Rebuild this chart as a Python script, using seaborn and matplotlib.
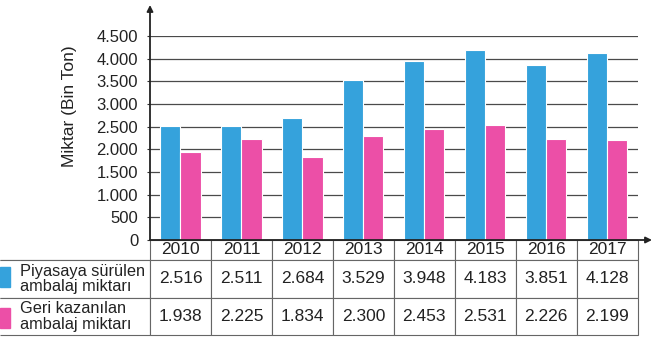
import matplotlib
matplotlib.use("Agg")
import matplotlib.pyplot as plt
from matplotlib.patches import Rectangle
from matplotlib.ticker import FuncFormatter, MultipleLocator
import seaborn as sns
import pandas as pd

# ---- data ----
years = ["2010", "2011", "2012", "2013", "2014", "2015", "2016", "2017"]
piyasaya = [2516, 2511, 2684, 3529, 3948, 4183, 3851, 4128]
geri = [1938, 2225, 1834, 2300, 2453, 2531, 2226, 2199]
series_labels = ["Piyasaya sürülen\nambalaj miktarı", "Geri kazanılan\nambalaj miktarı"]
y_label = "Miktar (Bin Ton)"
colors = ["#35A2DC", "#EC4FA7"]

df = pd.DataFrame({
    "Yıl": years * 2,
    "Miktar": piyasaya + geri,
    "Seri": [series_labels[0]] * len(years) + [series_labels[1]] * len(years),
})

sns.set_style("white")
plt.rcParams["font.family"] = ["Liberation Sans", "DejaVu Sans"]

W, H = 656, 343
fig = plt.figure(figsize=(W / 100, H / 100), dpi=100)
x0, x1 = 150, 637.7
y0, y1 = 240, 36
ax = fig.add_axes([x0 / W, (H - y0) / H, (x1 - x0) / W, (y0 - y1) / H])

sns.barplot(data=df, x="Yıl", y="Miktar", hue="Seri", order=years,
            hue_order=series_labels, palette=colors, saturation=1,
            width=0.66, dodge=True, edgecolor="white", linewidth=0.8,
            legend=False, ax=ax, zorder=3)

ax.set_xlim(-0.5, len(years) - 0.5)
ax.set_ylim(0, 4500)
ax.yaxis.set_major_locator(MultipleLocator(500))
ax.yaxis.set_major_formatter(FuncFormatter(lambda v, p: f"{int(v):,}".replace(",", ".")))
ax.yaxis.grid(True, color="#4a4a4a", lw=0.9, zorder=1)
ax.set_axisbelow(True)
for s in ax.spines.values():
    s.set_visible(False)
ax.set_xticks([])
ax.set_xlabel("")
ax.tick_params(axis="y", length=2.5, width=0.8, color="#333", pad=6,
               labelsize=12, labelcolor="#222", left=True)
ax.set_ylabel(y_label, fontsize=12.5, color="#222")
ax.yaxis.set_label_coords((77 - x0) / (x1 - x0), (y0 - 106) / (y0 - y1))

aw = x1 - x0
ah = y0 - y1
ax.annotate("", xy=(0, (y0 - 5) / ah), xytext=(0, 0), xycoords="axes fraction",
            annotation_clip=False,
            arrowprops=dict(arrowstyle="-|>", color="#222", lw=1.3,
                            mutation_scale=9, shrinkA=0, shrinkB=0))
ax.annotate("", xy=((652 - x0) / aw, 0), xytext=(0, 0), xycoords="axes fraction",
            annotation_clip=False,
            arrowprops=dict(arrowstyle="-|>", color="#222", lw=1.3,
                            mutation_scale=9, shrinkA=0, shrinkB=0))

# ---- table ----
fmt = lambda v: f"{v:,}".replace(",", ".")
cell_text = [[""] + years,
             [series_labels[0]] + [fmt(v) for v in piyasaya],
             [series_labels[1]] + [fmt(v) for v in geri]]
col_w = [150] + [(x1 - x0) / len(years)] * len(years)
tbl_bottom = 335
tbl = ax.table(cellText=cell_text, cellLoc="center", colWidths=col_w,
               bbox=[-x0 / aw, -(tbl_bottom - y0) / ah, x1 / aw, (tbl_bottom - y0) / ah])
tbl.auto_set_font_size(False)
tbl.set_fontsize(12.5)
row_h = [20, 37.7, 37.3]
for (r, c), cell in tbl.get_celld().items():
    cell.set_height(row_h[r])
    cell.set_edgecolor("#666")
    cell.set_linewidth(0.8)
    cell.get_text().set_color("#222")
    if c == 0:
        if r == 0:
            cell.visible_edges = "B"
        else:
            cell.visible_edges = "BTR"
            cell._loc = "left"
            cell.PAD = 20 / 150
            t = cell.get_text()
            t.set_horizontalalignment("left")
            t.set_multialignment("left")
            t.set_linespacing(1.05)
            t.set_fontsize(11.8)

# legend swatches
for i, (top, bot) in enumerate([(267, 287), (308, 328)]):
    fig.patches.append(Rectangle((0, (H - bot) / H), 10 / W, (bot - top) / H,
                                 transform=fig.transFigure, color=colors[i]))

fig.savefig("out.png", dpi=100)
